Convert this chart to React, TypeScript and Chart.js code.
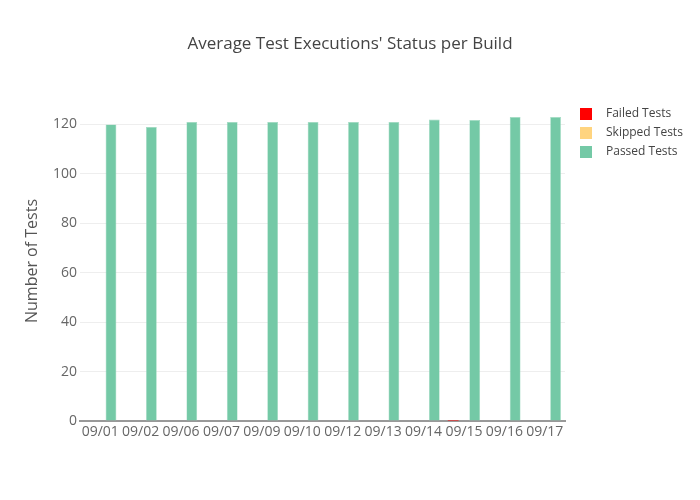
import React, { useEffect, useRef } from "react";
import { Chart, registerables } from "chart.js";

Chart.register(...registerables);

const categories = ["09/01", "09/02", "09/06", "09/07", "09/09", "09/10", "09/12", "09/13", "09/14", "09/15", "09/16", "09/17"];
const failedTests = [0, 0, 0, 0, 0, 0, 0, 0, 0, 0.4, 0, 0];
const skippedTests = [0, 0, 0, 0, 0, 0, 0, 0, 0, 0, 0, 0];
const passedTests = [120, 119, 121, 121, 121, 121, 121, 121, 122, 121.8, 123, 123];
const yTicks = [0, 20, 40, 60, 80, 100, 120];

const FONT = "'Open Sans', 'Noto Sans', sans-serif";

const legendPlugin = {
  id: "plotlyLegend",
  afterDraw(chart: any) {
    const ctx = chart.ctx;
    ctx.save();
    chart.data.datasets.forEach((ds: any, i: number) => {
      const cy = 114 + 19 * i;
      ctx.fillStyle = ds.backgroundColor;
      ctx.fillRect(580, cy - 6, 12, 12);
      ctx.fillStyle = "#444";
      ctx.font = `12px ${FONT}`;
      ctx.textBaseline = "middle";
      ctx.textAlign = "left";
      ctx.fillText(ds.label, 606, cy);
    });
    ctx.restore();
  },
};

export default function App() {
  const ref = useRef<HTMLCanvasElement>(null);
  useEffect(() => {
    const chart = new Chart(ref.current!, {
      type: "bar",
      data: {
        labels: categories,
        datasets: [
          { label: "Failed Tests", data: failedTests, backgroundColor: "#ff0000" },
          { label: "Skipped Tests", data: skippedTests, backgroundColor: "#ffd47f" },
          {
            label: "Passed Tests",
            data: passedTests,
            backgroundColor: "#74c9a6",
            borderColor: "#9fdac1",
            borderWidth: 0.6,
          },
        ],
      },
      options: {
        animation: false,
        responsive: false,
        maintainAspectRatio: false,
        layout: { padding: 0 },
        datasets: { bar: { categoryPercentage: 0.8, barPercentage: 1.0 } },
        plugins: {
          legend: { display: false },
          tooltip: { enabled: false },
          title: {
            display: true,
            text: "Average Test Executions' Status per Build",
            color: "#444",
            font: { family: FONT, size: 17, weight: "normal", lineHeight: 1.2 },
            padding: { top: 34, bottom: 46.6 },
          },
        },
        scales: {
          x: {
            grid: { display: false, drawTicks: false },
            border: { display: true, color: "#999", width: 2 },
            ticks: {
              color: "#666",
              font: { family: FONT, size: 14 },
              padding: 3,
              maxRotation: 0,
              autoSkip: false,
            },
            afterFit: (s: any) => {
              s.height = 79;
            },
          },
          y: {
            min: 0,
            max: 129.5,
            afterBuildTicks: (s: any) => {
              s.ticks = yTicks.map((v) => ({ value: v }));
            },
            grid: { color: "#eeeeee", drawTicks: false, lineWidth: 1 },
            border: { display: false },
            ticks: {
              color: "#666",
              font: { family: FONT, size: 14 },
              padding: 3,
            },
            title: {
              display: true,
              text: "Number of Tests",
              color: "#555",
              font: { family: FONT, size: 16 },
              padding: { top: 23, bottom: 0 },
            },
            afterFit: (s: any) => {
              s.width = 80;
            },
          },
          legendSpace: {
            type: "linear",
            position: "right",
            display: true,
            grid: { display: false, drawTicks: false },
            border: { display: false },
            ticks: { display: false },
            afterFit: (s: any) => {
              s.width = 135;
            },
          },
        },
      },
      plugins: [legendPlugin],
    });
    return () => chart.destroy();
  }, []);
  return (
    <div style={{ position: "absolute", left: 0, top: 0, width: 700, height: 500, background: "#fff" }}>
      <canvas ref={ref} width={700} height={500} style={{ width: 700, height: 500 }} />
    </div>
  );
}
